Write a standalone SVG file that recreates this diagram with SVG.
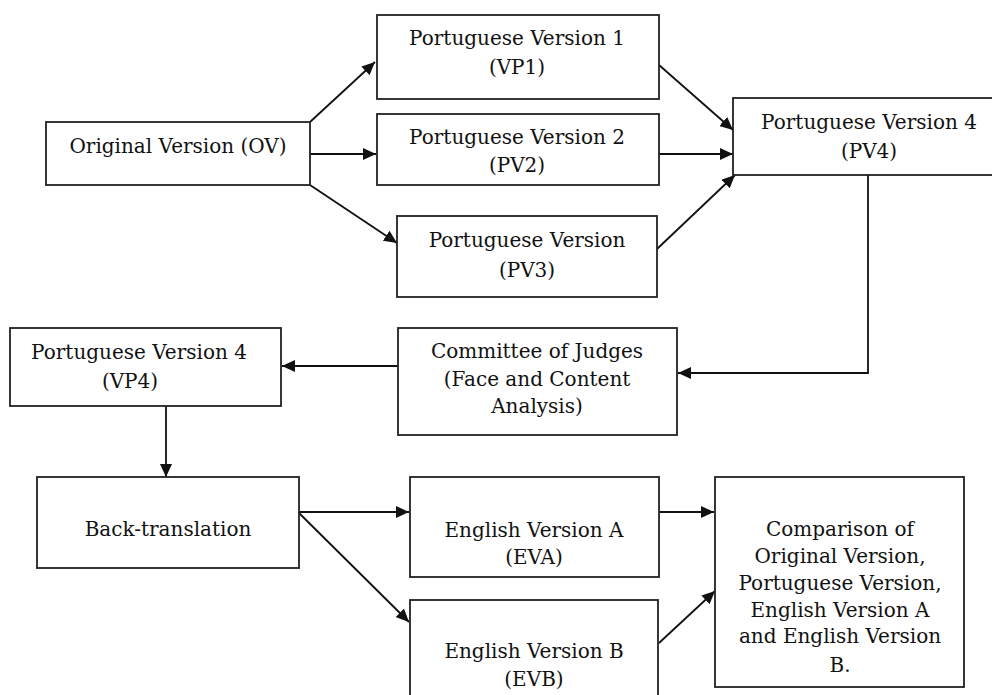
<svg xmlns="http://www.w3.org/2000/svg" width="992" height="695" viewBox="0 0 992 695">
<defs>
<marker id="ah" markerUnits="userSpaceOnUse" markerWidth="14" markerHeight="12" refX="13" refY="6" orient="auto">
<path d="M0,0 L13,6 L0,12 Z" fill="#111"/>
</marker>
<style>
.box{fill:#fff;stroke:#222;stroke-width:1.8}
.t{font-family:'DejaVu Serif',serif;font-size:20px;fill:#111;text-anchor:middle}
.c{fill:none;stroke:#111;stroke-width:1.8}
</style>
</defs>
<rect width="992" height="695" fill="#fff"/>
<g id="connectors">
<line class="c" x1="310" y1="122" x2="375" y2="62" marker-end="url(#ah)"/>
<line class="c" x1="310" y1="154" x2="376" y2="154" marker-end="url(#ah)"/>
<line class="c" x1="310" y1="185" x2="397" y2="243" marker-end="url(#ah)"/>
<line class="c" x1="659" y1="65" x2="733" y2="130" marker-end="url(#ah)"/>
<line class="c" x1="659" y1="154" x2="733" y2="154" marker-end="url(#ah)"/>
<line class="c" x1="657" y1="249" x2="735" y2="175" marker-end="url(#ah)"/>
<polyline class="c" points="868,175 868,373 678,373" marker-end="url(#ah)"/>
<line class="c" x1="398" y1="366" x2="282" y2="366" marker-end="url(#ah)"/>
<line class="c" x1="166" y1="406" x2="166" y2="477" marker-end="url(#ah)"/>
<line class="c" x1="299" y1="512" x2="409" y2="512" marker-end="url(#ah)"/>
<line class="c" x1="299" y1="513" x2="409" y2="622" marker-end="url(#ah)"/>
<line class="c" x1="659" y1="512" x2="714" y2="512" marker-end="url(#ah)"/>
<line class="c" x1="659" y1="643" x2="715" y2="591" marker-end="url(#ah)"/>
</g>
<g id="ov">
<rect class="box" x="46" y="122" width="264" height="63"/>
<text class="t" x="178" y="153">Original Version (OV)</text>
</g>
<g id="pv1">
<rect class="box" x="377" y="15" width="282" height="84"/>
<text class="t" x="517" y="45">Portuguese Version 1</text>
<text class="t" x="517" y="74">(VP1)</text>
</g>
<g id="pv2">
<rect class="box" x="377" y="114" width="282" height="71"/>
<text class="t" x="517" y="144">Portuguese Version 2</text>
<text class="t" x="517" y="172">(PV2)</text>
</g>
<g id="pv3">
<rect class="box" x="397" y="216" width="260" height="81"/>
<text class="t" x="527" y="247">Portuguese Version</text>
<text class="t" x="527" y="277">(PV3)</text>
</g>
<g id="pv4">
<rect class="box" x="733" y="98" width="273" height="77"/>
<text class="t" x="869" y="129">Portuguese Version 4</text>
<text class="t" x="869" y="158">(PV4)</text>
</g>
<g id="committee">
<rect class="box" x="398" y="328" width="279" height="107"/>
<text class="t" x="537" y="358">Committee of Judges</text>
<text class="t" x="537" y="386">(Face and Content</text>
<text class="t" x="537" y="413">Analysis)</text>
</g>
<g id="vp4">
<rect class="box" x="10" y="328" width="271" height="78"/>
<text class="t" x="139" y="359">Portuguese Version 4</text>
<text class="t" x="130" y="388">(VP4)</text>
</g>
<g id="backtranslation">
<rect class="box" x="37" y="477" width="262" height="91"/>
<text class="t" x="168" y="536">Back-translation</text>
</g>
<g id="eva">
<rect class="box" x="410" y="477" width="249" height="100"/>
<text class="t" x="534" y="537">English Version A</text>
<text class="t" x="534" y="564">(EVA)</text>
</g>
<g id="evb">
<rect class="box" x="410" y="600" width="248" height="110"/>
<text class="t" x="534" y="658">English Version B</text>
<text class="t" x="534" y="686">(EVB)</text>
</g>
<g id="comparison">
<rect class="box" x="715" y="477" width="249" height="210"/>
<text class="t" x="840" y="536">Comparison of</text>
<text class="t" x="840" y="563">Original Version,</text>
<text class="t" x="840" y="590">Portuguese Version,</text>
<text class="t" x="840" y="617">English Version A</text>
<text class="t" x="840" y="643">and English Version</text>
<text class="t" x="840" y="672">B.</text>
</g>
</svg>
